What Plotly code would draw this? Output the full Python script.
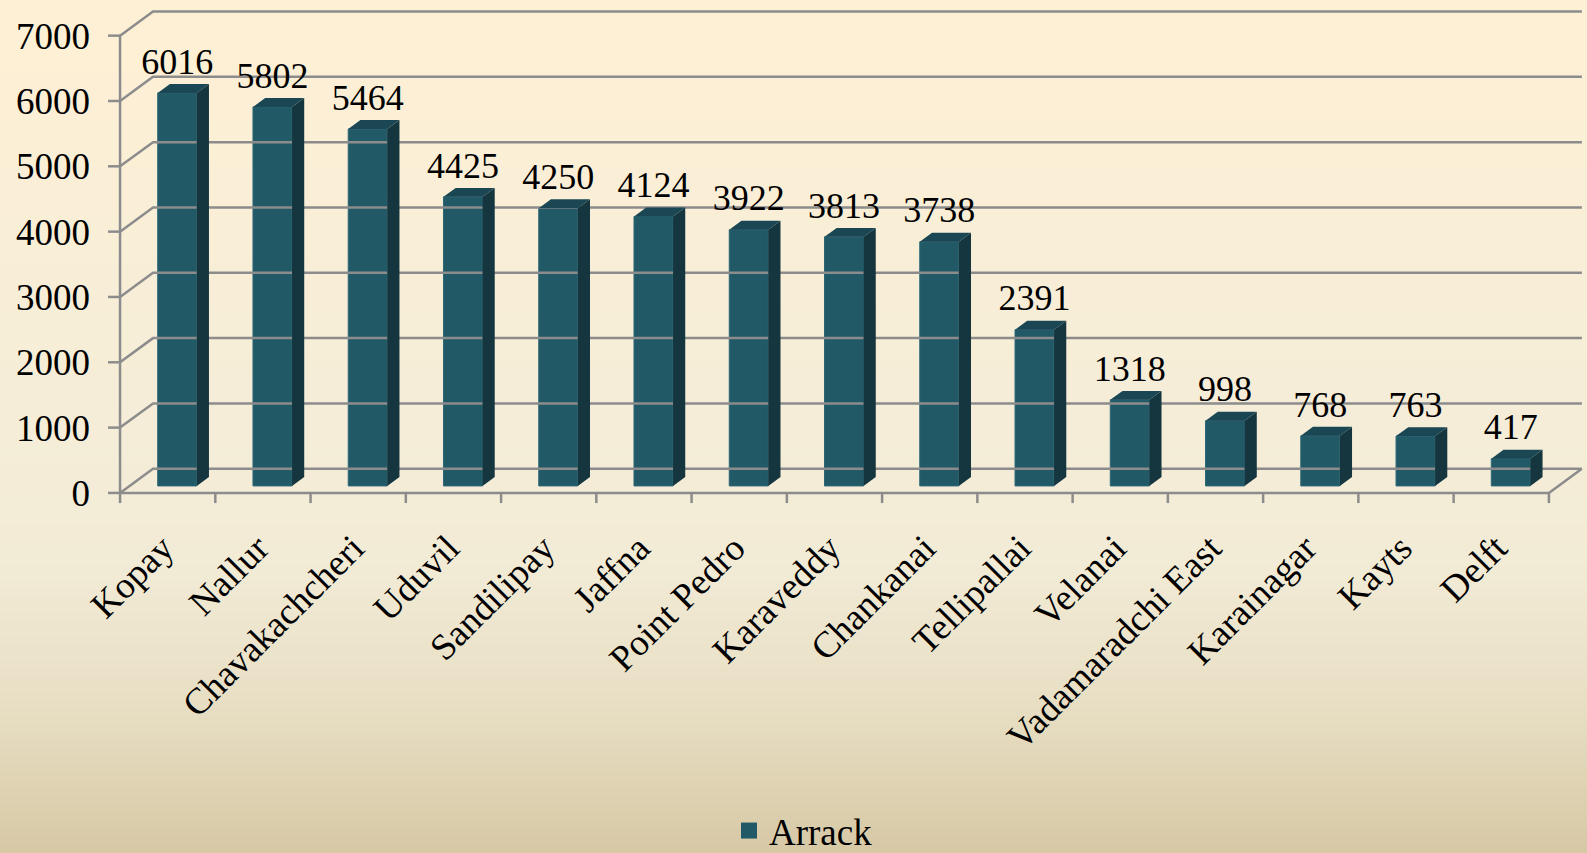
import plotly.graph_objects as go

categories = ["Kopay", "Nallur", "Chavakachcheri", "Uduvil", "Sandilipay", "Jaffna",
              "Point Pedro", "Karaveddy", "Chankanai", "Tellipallai", "Velanai",
              "Vadamaradchi East", "Karainagar", "Kayts", "Delft"]
values = [6016, 5802, 5464, 4425, 4250, 4124, 3922, 3813, 3738, 2391, 1318, 998, 768, 763, 417]
y_ticks = [0, 1000, 2000, 3000, 4000, 5000, 6000, 7000]
series_name = "Arrack"

# 3-D look: depth vector expressed in axis (data) units
DX, DY = 0.346, 370.0
F1, F2 = 0.29, 0.66      # bar front / back position inside the depth
BW = 0.41                # bar width (category units)

FRONT = "#225967"
TOP = "#1B4754"
SIDE = "#15363F"
GRID = "#8C8C8C"
FONT = "Liberation Serif"

W, H = 1587, 853
ML, MR, MT, MB = 101, 0, 3, 347
XR = [-0.7, 14.9]
YR = [-200, 7500]

n = len(categories)
fig = go.Figure()

# ---- background gradient bands (paper coords) ----
stops = [(0.0, (254, 240, 212)), (0.5, (245, 237, 216)), (0.66, (242, 235, 214)),
         (0.82, (232, 223, 197)), (0.95, (220, 207, 174)), (1.0, (214, 200, 165))]
def col_at(t):
    for (t0, c0), (t1, c1) in zip(stops[:-1], stops[1:]):
        if t0 <= t <= t1:
            u = (t - t0) / (t1 - t0) if t1 > t0 else 0
            return "rgb(%d,%d,%d)" % tuple(round(a + (b - a) * u) for a, b in zip(c0, c1))
    return "rgb(%d,%d,%d)" % stops[-1][1]

ph = H - MT - MB
pw = W - ML - MR
shapes = []
NB = 107
for k in range(NB):
    py0 = H * k / NB - 1
    py1 = H * (k + 1) / NB + 1
    shapes.append(dict(type="rect", xref="paper", yref="paper", layer="below",
                       x0=-ML / pw - 0.01, x1=1.01,
                       y0=(H - MB - py1) / ph, y1=(H - MB - py0) / ph,
                       line=dict(width=0), fillcolor=col_at((k + 0.5) / NB)))

# ---- walls, floor, axis, ticks ----
gx, gy = [], []
for v in y_ticks:
    gx += [-0.5, -0.5 + DX, n - 0.5 + DX, None]
    gy += [v, v + DY, v + DY, None]
gx += [-0.5, -0.5, None]; gy += [0, y_ticks[-1], None]
gx += [-0.5, n - 0.5, n - 0.5 + DX, None]; gy += [0, 0, DY, None]
for v in y_ticks:
    gx += [-0.5 - 0.126, -0.5, None]; gy += [v, v, None]
for k in range(n + 1):
    gx += [-0.5 + k, -0.5 + k, None]; gy += [0, -155, None]
fig.add_trace(go.Scatter(x=gx, y=gy, mode="lines", line=dict(color=GRID, width=2.5),
                         hoverinfo="skip", showlegend=False))

# ---- bars: front faces ----
b = F1 * DY
xs_front = [i + F1 * DX for i in range(n)]
fig.add_trace(go.Bar(x=xs_front, y=values, base=b, width=BW,
                     marker=dict(color=FRONT, line=dict(color="#2C6777", width=1)),
                     name=series_name, showlegend=False))

# ---- bars: side and top faces ----
d = F2 - F1
sx, sy, tx, ty = [], [], [], []
for i, v in enumerate(values):
    xr = xs_front[i] + BW / 2
    xl = xs_front[i] - BW / 2
    sx += [xr, xr + d * DX, xr + d * DX, xr, xr, None]
    sy += [b, b + d * DY, b + d * DY + v, b + v, b, None]
    tx += [xl, xr, xr + d * DX, xl + d * DX, xl, None]
    ty += [b + v, b + v, b + v + d * DY, b + v + d * DY, b + v, None]
fig.add_trace(go.Scatter(x=sx, y=sy, mode="lines", fill="toself", fillcolor=SIDE,
                         line=dict(width=0, color=SIDE), hoverinfo="skip", showlegend=False))
fig.add_trace(go.Scatter(x=tx, y=ty, mode="lines", fill="toself", fillcolor=TOP,
                         line=dict(width=0, color=TOP), hoverinfo="skip", showlegend=False))

# ---- data labels ----
fig.add_trace(go.Scatter(x=xs_front, y=[v + F2 * DY + 20 for v in values], mode="text",
                         text=[str(v) for v in values], textposition="top center",
                         textfont=dict(family=FONT, size=36, color="black"),
                         cliponaxis=False, hoverinfo="skip", showlegend=False))

# ---- legend entry ----
fig.add_trace(go.Scatter(x=[None], y=[None], mode="markers", name=series_name,
                         marker=dict(symbol="square", size=18, color=FRONT)))

fig.update_layout(
    width=W, height=H,
    margin=dict(l=ML, r=MR, t=MT, b=MB, autoexpand=False),
    paper_bgcolor="rgb(245,237,216)", plot_bgcolor="rgba(0,0,0,0)",
    shapes=shapes,
    font=dict(family=FONT, color="black"),
    showlegend=True,
    legend=dict(orientation="h", xref="container", yref="container",
                x=729 / W, xanchor="left", y=1 - 831 / H, yanchor="middle",
                font=dict(family=FONT, size=37, color="black"),
                bgcolor="rgba(0,0,0,0)"),
    xaxis=dict(range=XR, tickmode="array", tickvals=list(range(n)), ticktext=categories,
               tickangle=-45, ticks="", showgrid=False, zeroline=False, showline=False,
               tickfont=dict(family=FONT, size=37, color="black"), ticklabelstandoff=12,
               ticklabelshift=-5, automargin=False, fixedrange=True),
    yaxis=dict(range=YR, tickmode="array", tickvals=y_ticks, ticks="", showgrid=False,
               zeroline=False, showline=False, ticklabelstandoff=10, automargin=False,
               tickfont=dict(family=FONT, size=37, color="black"), fixedrange=True),
)

fig.write_html("out.html", config={"displayModeBar": False},
               post_script="document.body.style.margin='0';document.body.style.padding='0';")
